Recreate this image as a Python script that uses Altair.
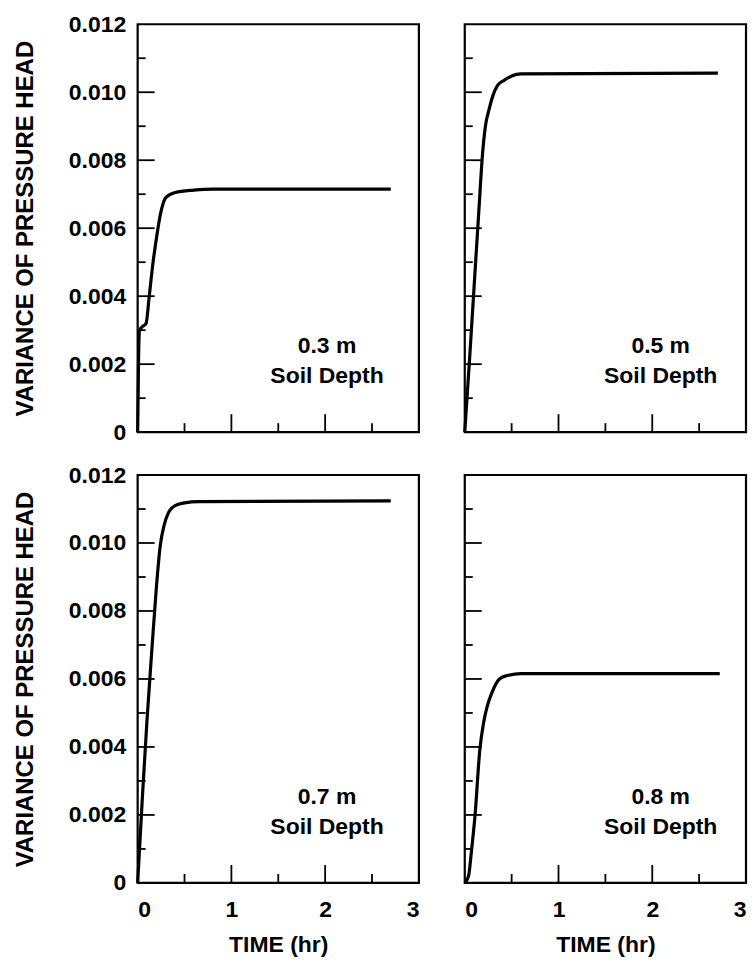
import altair as alt
import pandas as pd

FONT = "Liberation Sans"
WEIGHT = "bold"

# ---- data ----
time_03 = [0, 0.01, 0.02, 0.05, 0.09, 0.12, 0.16, 0.2, 0.25, 0.3, 0.4, 0.6, 0.8, 2.7]
var_03 = [0, 0.0022, 0.0030, 0.0031, 0.0032, 0.0039, 0.0049, 0.0057, 0.0065, 0.0069, 0.00705, 0.00712, 0.00715, 0.00715]

time_05 = [0, 0.05, 0.1, 0.15, 0.19, 0.22, 0.26, 0.3, 0.35, 0.42, 0.5, 0.6, 2.7]
var_05 = [0, 0.0021, 0.0043, 0.0065, 0.0082, 0.0090, 0.0095, 0.0099, 0.0102, 0.01035, 0.01048, 0.01054, 0.01056]

time_07 = [0, 0.05, 0.1, 0.15, 0.2, 0.24, 0.28, 0.33, 0.4, 0.5, 0.65, 2.7]
var_07 = [0, 0.0025, 0.0048, 0.0068, 0.0087, 0.0099, 0.0105, 0.0109, 0.0111, 0.01118, 0.01122, 0.01124]

time_08 = [0, 0.04, 0.07, 0.11, 0.16, 0.2, 0.24, 0.29, 0.37, 0.45, 0.6, 2.72]
var_08 = [0, 0.0002, 0.0009, 0.0020, 0.0039, 0.0047, 0.0052, 0.0056, 0.0060, 0.0061, 0.00616, 0.00616]

depth_labels = ["0.3 m", "0.5 m", "0.7 m", "0.8 m"]
label_t = [2.02, 2.09, 2.02, 2.09]
label_v = [0.00253, 0.00165]

x_labels = [0, 1, 2, 3]
x_major = [1, 2]
x_minor = [0.5, 1.5, 2.5]
y_labels = [0, 0.002, 0.004, 0.006, 0.008, 0.010, 0.012]
y_major = [0.002, 0.004, 0.006, 0.008, 0.010]
y_minor = [0.001, 0.003, 0.005, 0.007, 0.009, 0.011]

W = 282
H = 409


def panel(t, v, label, tx, show_x, show_y):
    xs = alt.Scale(domain=[0, 3], nice=False, zero=False)
    ys = alt.Scale(domain=[0, 0.012], nice=False, zero=False)
    if show_x:
        xaxis = alt.Axis(values=x_labels, format="d", ticks=False, tickSize=0, domain=False,
                         grid=False, labelPadding=16, labelFontSize=23, labelFont=FONT,
                         labelFontWeight=WEIGHT, labelColor="black", titleFontSize=23,
                         titleFont=FONT, titleFontWeight=WEIGHT, titleColor="black",
                         titlePadding=12, title="TIME (hr)")
    else:
        xaxis = None
    if show_y:
        yaxis = alt.Axis(values=y_labels,
                         labelExpr="datum.value == 0 ? '0' : format(datum.value, '.3f')",
                         ticks=False, tickSize=0, domain=False, grid=False, labelPadding=12,
                         labelFontSize=23, labelFont=FONT, labelFontWeight=WEIGHT,
                         labelColor="black", titleFontSize=24, titleFont=FONT,
                         titleFontWeight=WEIGHT, titleColor="black", titlePadding=31,
                         title="VARIANCE OF PRESSURE HEAD")
    else:
        yaxis = None

    df = pd.DataFrame({"t": t, "v": v})
    line = alt.Chart(df).mark_line(color="black", strokeWidth=3.2, interpolate="monotone").encode(
        x=alt.X("t:Q", scale=xs, axis=xaxis),
        y=alt.Y("v:Q", scale=ys, axis=yaxis),
    )

    ymaj = alt.Chart(pd.DataFrame({"v": y_major})).mark_rule(color="black", strokeWidth=1.8).encode(
        y=alt.Y("v:Q", scale=ys, axis=yaxis), x=alt.value(0), x2=alt.value(17))
    ymin = alt.Chart(pd.DataFrame({"v": y_minor})).mark_rule(color="black", strokeWidth=1.8).encode(
        y=alt.Y("v:Q", scale=ys, axis=yaxis), x=alt.value(0), x2=alt.value(8))
    xmaj = alt.Chart(pd.DataFrame({"t": x_major})).mark_rule(color="black", strokeWidth=1.8).encode(
        x=alt.X("t:Q", scale=xs, axis=xaxis), y=alt.value(H), y2=alt.value(H - 18))
    xmin = alt.Chart(pd.DataFrame({"t": x_minor})).mark_rule(color="black", strokeWidth=1.8).encode(
        x=alt.X("t:Q", scale=xs, axis=xaxis), y=alt.value(H), y2=alt.value(H - 9))

    tdf = pd.DataFrame({"t": [tx, tx], "v": label_v, "s": [label, "Soil Depth"]})
    txt = alt.Chart(tdf).mark_text(fontSize=23, font=FONT, fontWeight=WEIGHT, color="black").encode(
        x=alt.X("t:Q", scale=xs, axis=xaxis),
        y=alt.Y("v:Q", scale=ys, axis=yaxis),
        text="s:N",
    )
    return alt.layer(line, ymaj, ymin, xmaj, xmin, txt).properties(width=W, height=H)


p1 = panel(time_03, var_03, depth_labels[0], label_t[0], False, True)
p2 = panel(time_05, var_05, depth_labels[1], label_t[1], False, False)
p3 = panel(time_07, var_07, depth_labels[2], label_t[2], True, True)
p4 = panel(time_08, var_08, depth_labels[3], label_t[3], True, False)

chart = alt.concat(p1, p2, p3, p4, columns=2, spacing={"row": 43, "column": 46},
                   bounds="flush").properties(
    padding={"left": 4, "top": 2, "right": 0, "bottom": 0},
    background="white",
).configure_view(stroke="black", strokeWidth=2.2)

chart.save("out.html", embed_options={"renderer": "svg", "actions": False})
